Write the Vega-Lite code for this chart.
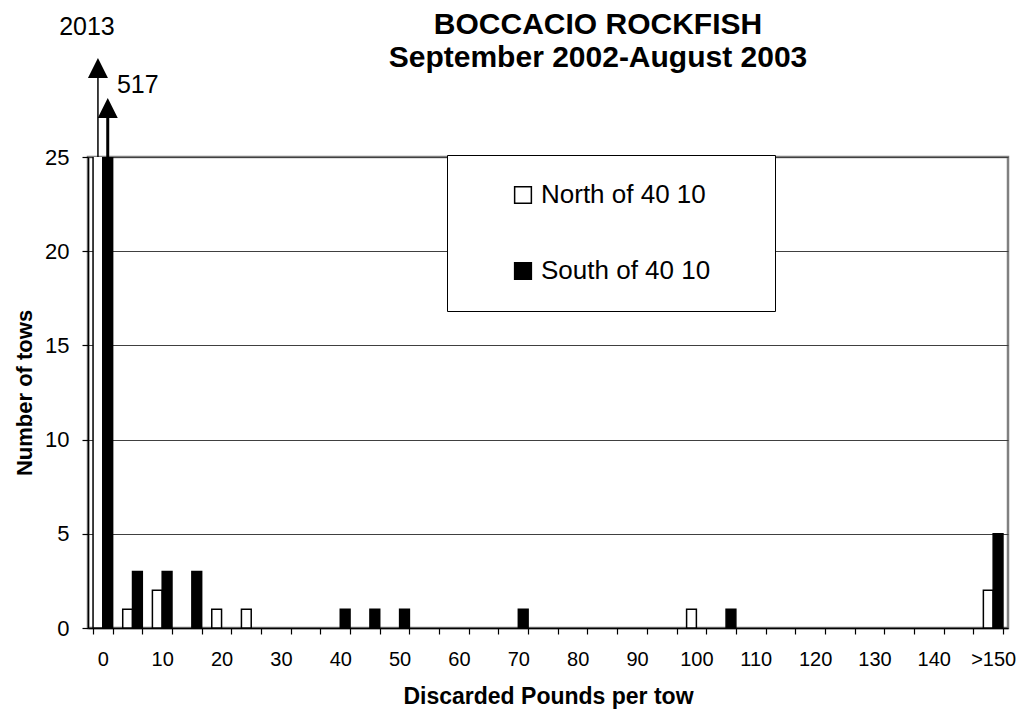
{
  "$schema": "https://vega.github.io/schema/vega-lite/v6.json",
  "width": 920,
  "height": 471,
  "autosize": "none",
  "padding": {"left": 88, "top": 157, "right": 12, "bottom": 83},
  "background": "white",
  "config": {
    "font": "Liberation Sans",
    "view": {"stroke": "#808080", "strokeWidth": 2.5},
    "axis": {
      "domainColor": "black",
      "tickColor": "black",
      "labelColor": "black",
      "titleColor": "black",
      "labelFont": "Liberation Sans",
      "titleFont": "Liberation Sans"
    },
    "legend": {
      "orient": "none",
      "legendX": 359,
      "legendY": -2,
      "padding": 27,
      "symbolOffset": 36,
      "rowPadding": 50,
      "labelFontSize": 26,
      "labelFont": "Liberation Sans",
      "labelColor": "black",
      "labelOffset": 5,
      "labelLimit": 400,
      "symbolSize": 280,
      "symbolType": "square",
      "symbolStrokeColor": "black",
      "symbolStrokeWidth": 1.5,
      "strokeColor": "black",
      "fillColor": "white",
      "titleOrient": "right",
      "titlePadding": 38,
      "titleFontSize": 25
    }
  },
  "title": {
    "text": ["BOCCACIO ROCKFISH", "September 2002-August 2003"],
    "fontSize": 30,
    "fontWeight": "bold",
    "font": "Liberation Sans",
    "color": "black",
    "anchor": "middle",
    "dx": 50,
    "lineHeight": 33,
    "offset": -58
  },
  "data": {
    "values": [
      {"bin": "0", "region": "North of 40 10", "count": 2013},
      {"bin": "5", "region": "North of 40 10", "count": 1},
      {"bin": "10", "region": "North of 40 10", "count": 2},
      {"bin": "20", "region": "North of 40 10", "count": 1},
      {"bin": "25", "region": "North of 40 10", "count": 1},
      {"bin": "100", "region": "North of 40 10", "count": 1},
      {"bin": ">150", "region": "North of 40 10", "count": 2},
      {"bin": "0", "region": "South of 40 10", "count": 517},
      {"bin": "5", "region": "South of 40 10", "count": 3},
      {"bin": "10", "region": "South of 40 10", "count": 3},
      {"bin": "15", "region": "South of 40 10", "count": 3},
      {"bin": "40", "region": "South of 40 10", "count": 1},
      {"bin": "45", "region": "South of 40 10", "count": 1},
      {"bin": "50", "region": "South of 40 10", "count": 1},
      {"bin": "70", "region": "South of 40 10", "count": 1},
      {"bin": "105", "region": "South of 40 10", "count": 1},
      {"bin": ">150", "region": "South of 40 10", "count": 5}
    ]
  },
  "encoding": {
    "x": {
      "field": "bin",
      "type": "ordinal",
      "scale": {
        "domain": ["0","5","10","15","20","25","30","35","40","45","50","55","60","65","70","75","80","85","90","95","100","105","110","115","120","125","130","135","140","145",">150"],
        "paddingInner": 0.34,
        "paddingOuter": 0.17
      },
      "axis": {
        "title": "Discarded Pounds per tow",
        "titleFontSize": 23,
        "titleFontWeight": "bold",
        "titlePadding": 16,
        "labelFontSize": 20,
        "labelPadding": 15,
        "labelAngle": 0,
        "tickSize": 6,
        "tickBand": "extent",
        "domainWidth": 1.5,
        "tickWidth": 1.2,
        "grid": false,
        "labelExpr": "datum.value == '>150' || toNumber(datum.value) % 10 == 0 ? datum.value : ''"
      }
    },
    "xOffset": {
      "field": "region",
      "type": "nominal",
      "scale": {"paddingInner": 0, "paddingOuter": 0}
    }
  },
  "layer": [
    {
      "mark": {"type": "bar", "clip": true, "stroke": "black", "strokeWidth": 1.5},
      "encoding": {
        "y": {
          "field": "count",
          "type": "quantitative",
          "scale": {"domain": [0, 25]},
          "axis": {"title": "Number of tows", "titleFontSize": 22, "titleFontWeight": "bold", "titlePadding": 8, "values": [0, 5, 10, 15, 20, 25], "labelFontSize": 22, "labelPadding": 13, "tickSize": 6, "domainWidth": 1.5, "tickWidth": 1.2, "grid": true, "gridColor": "#404040", "gridWidth": 1}
        },
        "fill": {
          "field": "region",
          "type": "nominal",
          "scale": {"domain": ["North of 40 10", "South of 40 10"], "range": ["white", "black"]},
          "legend": {"title": " "}
        }
      }
    },
    {
      "transform": [{"filter": "datum.count > 25 && datum.region == 'North of 40 10'"}],
      "mark": {"type": "rule", "strokeWidth": 1.5, "color": "black"},
      "encoding": {
        "y": {"datum": 25, "type": "quantitative", "scale": {"domain": [0, 25]}, "axis": {"title": "Number of tows", "titleFontSize": 22, "titleFontWeight": "bold", "titlePadding": 8, "values": [0, 5, 10, 15, 20, 25], "labelFontSize": 22, "labelPadding": 13, "tickSize": 6, "domainWidth": 1.5, "tickWidth": 1.2, "grid": true, "gridColor": "#404040", "gridWidth": 1}},
        "y2": {"datum": 29.2}
      }
    },
    {
      "transform": [{"filter": "datum.count > 25 && datum.region == 'North of 40 10'"}],
      "mark": {"type": "point", "shape": "M0,-1L1,1L-1,1Z", "size": 400, "filled": true, "color": "black", "opacity": 1},
      "encoding": {
        "y": {"datum": 29.72, "type": "quantitative", "scale": {"domain": [0, 25]}, "axis": {"title": "Number of tows", "titleFontSize": 22, "titleFontWeight": "bold", "titlePadding": 8, "values": [0, 5, 10, 15, 20, 25], "labelFontSize": 22, "labelPadding": 13, "tickSize": 6, "domainWidth": 1.5, "tickWidth": 1.2, "grid": true, "gridColor": "#404040", "gridWidth": 1}}
      }
    },
    {
      "transform": [{"filter": "datum.count > 25 && datum.region == 'North of 40 10'"}],
      "mark": {"type": "text", "fontSize": 25, "dx": -11, "baseline": "middle", "align": "center", "color": "black"},
      "encoding": {
        "y": {"datum": 31.9, "type": "quantitative", "scale": {"domain": [0, 25]}, "axis": {"title": "Number of tows", "titleFontSize": 22, "titleFontWeight": "bold", "titlePadding": 8, "values": [0, 5, 10, 15, 20, 25], "labelFontSize": 22, "labelPadding": 13, "tickSize": 6, "domainWidth": 1.5, "tickWidth": 1.2, "grid": true, "gridColor": "#404040", "gridWidth": 1}},
        "text": {"field": "count", "type": "quantitative"}
      }
    },
    {
      "transform": [{"filter": "datum.count > 25 && datum.region == 'South of 40 10'"}],
      "mark": {"type": "rule", "strokeWidth": 3, "color": "black"},
      "encoding": {
        "y": {"datum": 25, "type": "quantitative", "scale": {"domain": [0, 25]}, "axis": {"title": "Number of tows", "titleFontSize": 22, "titleFontWeight": "bold", "titlePadding": 8, "values": [0, 5, 10, 15, 20, 25], "labelFontSize": 22, "labelPadding": 13, "tickSize": 6, "domainWidth": 1.5, "tickWidth": 1.2, "grid": true, "gridColor": "#404040", "gridWidth": 1}},
        "y2": {"datum": 27.07}
      }
    },
    {
      "transform": [{"filter": "datum.count > 25 && datum.region == 'South of 40 10'"}],
      "mark": {"type": "point", "shape": "M0,-1L1,1L-1,1Z", "size": 400, "filled": true, "color": "black", "opacity": 1},
      "encoding": {
        "y": {"datum": 27.6, "type": "quantitative", "scale": {"domain": [0, 25]}, "axis": {"title": "Number of tows", "titleFontSize": 22, "titleFontWeight": "bold", "titlePadding": 8, "values": [0, 5, 10, 15, 20, 25], "labelFontSize": 22, "labelPadding": 13, "tickSize": 6, "domainWidth": 1.5, "tickWidth": 1.2, "grid": true, "gridColor": "#404040", "gridWidth": 1}}
      }
    },
    {
      "transform": [{"filter": "datum.count > 25 && datum.region == 'South of 40 10'"}],
      "mark": {"type": "text", "fontSize": 25, "dx": 30, "baseline": "middle", "align": "center", "color": "black"},
      "encoding": {
        "y": {"datum": 28.8, "type": "quantitative", "scale": {"domain": [0, 25]}, "axis": {"title": "Number of tows", "titleFontSize": 22, "titleFontWeight": "bold", "titlePadding": 8, "values": [0, 5, 10, 15, 20, 25], "labelFontSize": 22, "labelPadding": 13, "tickSize": 6, "domainWidth": 1.5, "tickWidth": 1.2, "grid": true, "gridColor": "#404040", "gridWidth": 1}},
        "text": {"field": "count", "type": "quantitative"}
      }
    }
  ]
}
